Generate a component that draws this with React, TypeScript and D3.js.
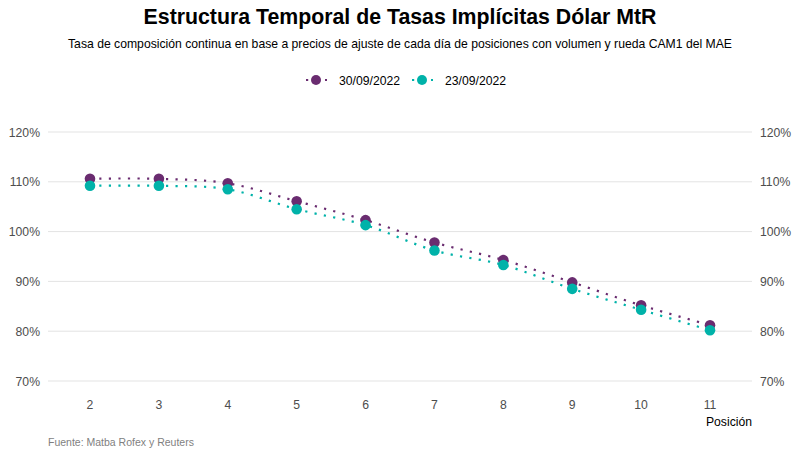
import React from "react";
import * as d3 from "d3";

const posiciones = [2, 3, 4, 5, 6, 7, 8, 9, 10, 11];
const serieA = [110.6, 110.6, 109.7, 106.1, 102.3, 97.8, 94.3, 89.8, 85.2, 81.2];
const serieB = [109.2, 109.2, 108.5, 104.5, 101.3, 96.2, 93.3, 88.5, 84.3, 80.2];
const seriesNames = ["30/09/2022", "23/09/2022"];
const seriesColors = ["#6a2c70", "#00b2a9"];
const yTicks = [70, 80, 90, 100, 110, 120];

const W = 800;
const H = 457;
const FONT = "'Liberation Sans', Arial, sans-serif";

export default function App() {
  const x = d3.scaleLinear().domain([2, 11]).range([90, 710]);
  const y = d3.scaleLinear().domain([70, 120]).range([381, 132]);
  const line = d3
    .line<[number, number]>()
    .x((d) => x(d[0]))
    .y((d) => y(d[1]))
    .curve(d3.curveCatmullRom.alpha(0.5));
  const data = [serieA, serieB];

  return (
    <svg
      width={W}
      height={H}
      style={{ position: "absolute", left: 0, top: 0, background: "#fff" }}
      fontFamily={FONT}
    >
      <rect width={W} height={H} fill="#fff" />
      <text x={400} y={24} textAnchor="middle" fontSize={21.3} fontWeight="bold" fill="#000">
        Estructura Temporal de Tasas Implícitas Dólar MtR
      </text>
      <text x={400} y={48} textAnchor="middle" fontSize={12.2} fill="#000">
        Tasa de composición continua en base a precios de ajuste de cada día de posiciones con volumen y rueda CAM1 del MAE
      </text>

      {/* legend */}
      {seriesNames.map((n, i) => {
        const lx = i === 0 ? 305 : 411;
        return (
          <g key={n}>
            <line
              x1={lx}
              x2={lx + 22}
              y1={80}
              y2={80}
              stroke={seriesColors[i]}
              strokeWidth={2.2}
              strokeDasharray="2.2,7.3"
              strokeDashoffset={-1}
            />
            <circle cx={lx + 11} cy={80} r={5} fill={seriesColors[i]} />
            <text x={lx + 34} y={84.5} fontSize={12.2} fill="#000">
              {n}
            </text>
          </g>
        );
      })}

      {/* grid */}
      {yTicks.map((t) => (
        <g key={t}>
          <line x1={48} x2={752} y1={y(t)} y2={y(t)} stroke="#e3e3e3" strokeWidth={1} />
          <text x={40} y={y(t) + 4.5} textAnchor="end" fontSize={12.2} fill="#4d4d4d">
            {t}%
          </text>
          <text x={760} y={y(t) + 4.5} textAnchor="start" fontSize={12.2} fill="#4d4d4d">
            {t}%
          </text>
        </g>
      ))}

      {posiciones.map((p) => (
        <text key={p} x={x(p)} y={409} textAnchor="middle" fontSize={12.2} fill="#4d4d4d">
          {p}
        </text>
      ))}
      <text x={752} y={426} textAnchor="end" fontSize={12.2} fill="#000">
        Posición
      </text>
      <text x={48} y={446} fontSize={10.5} fill="#7f7f7f">
        Fuente: Matba Rofex y Reuters
      </text>

      {/* lines */}
      {data.map((s, i) => (
        <path
          key={"l" + i}
          d={line(posiciones.map((p, j) => [p, s[j]]) as [number, number][]) || ""}
          fill="none"
          stroke={seriesColors[i]}
          strokeWidth={2.2}
          strokeDasharray="2.2,7.3"
        />
      ))}
      {data.map((s, i) => (
        <g key={"p" + i}>
          {posiciones.map((p, j) => (
            <circle key={p} cx={x(p)} cy={y(s[j])} r={5.3} fill={seriesColors[i]} />
          ))}
        </g>
      ))}
    </svg>
  );
}
